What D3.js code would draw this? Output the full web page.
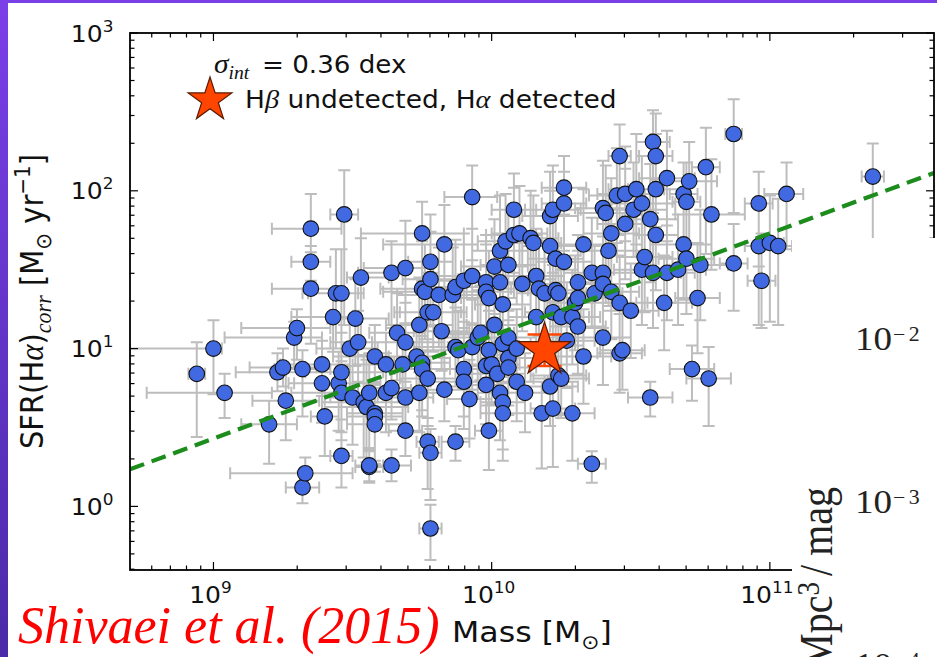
<!DOCTYPE html>
<html>
<head>
<meta charset="utf-8">
<script src="https://cdn.jsdelivr.net/npm/d3@7"></script>
<style>
  html, body { margin: 0; padding: 0; background: #fff; }
  svg { display: block; }
</style>
</head>
<body>
<svg id="chart" width="937" height="657"></svg>
<script>
// Each galaxy: [log10 M*, log10 SFR, mass err low, mass err high, SFR err low, SFR err high] (errors in dex)
const galaxies = [
  [8.94, 0.84, .03, .03, .40, .20], [9.00, 1.00, .30, .03, .29, .18], [9.04, 0.72, .28, .17, .16, .12],
  [9.20, 0.52, .10, .10, .25, .15], [9.23, 0.85, .15, .10, .12, .12], [9.25, 0.88, .12, .12, .12, .12],
  [9.26, 0.67, .12, .12, .25, .20], [9.29, 1.07, .25, .10, .20, .10], [9.30, 1.13, .20, .12, .20, .12],
  [9.32, 0.87, .10, .10, .30, .12], [9.32, 0.12, .06, .06, .10, .10], [9.33, 0.21, .27, .17, .10, .10],
  [9.35, 1.76, .14, .11, .15, .22], [9.35, 1.55, .07, .07, .12, .10], [9.35, 1.38, .14, .12, .35, .15],
  [9.39, 0.90, .15, .10, .20, .15], [9.39, 0.78, .10, .10, .25, .15], [9.40, 0.57, .05, .05, .25, .20],
  [9.43, 1.20, .15, .10, .22, .15], [9.44, 1.35, .12, .08, .35, .28], [9.46, 1.35, .12, .08, .35, .28],
  [9.45, 0.78, .18, .15, .30, .20], [9.46, 0.72, .18, .15, .30, .20], [9.46, 0.85, .20, .15, .30, .25],
  [9.46, 0.32, .04, .04, .20, .15], [9.47, 1.85, .05, .05, .70, .28], [9.49, 1.00, .12, .10, .25, .20],
  [9.50, 0.69, .08, .08, .30, .20], [9.51, 1.19, .10, .12, .30, .25], [9.52, 1.04, .10, .10, .25, .20],
  [9.53, 1.45, .05, .10, .40, .25], [9.54, 0.66, .15, .15, .35, .30], [9.55, 0.63, .15, .15, .35, .30],
  [9.56, 0.25, .05, .05, .10, .10], [9.56, 0.26, .05, .05, .10, .10], [9.56, 0.72, .10, .10, .35, .25],
  [9.58, 0.59, .10, .10, .30, .20], [9.58, 0.57, .10, .10, .30, .20], [9.58, 0.52, .10, .10, .30, .20],
  [9.58, 0.95, .15, .10, .20, .20], [9.62, 0.72, .10, .10, .25, .25], [9.62, 0.90, .12, .12, .20, .20],
  [9.64, 1.48, .12, .05, .35, .20], [9.64, 0.26, .07, .07, .10, .10], [9.64, 0.75, .10, .10, .20, .20],
  [9.66, 1.10, .10, .10, .30, .25], [9.69, 1.04, .12, .12, .25, .25], [9.68, 0.90, .10, .10, .20, .20],
  [9.69, 0.69, .10, .10, .20, .20], [9.69, 0.48, .06, .06, .16, .20], [9.69, 1.51, .15, .10, .35, .30],
  [9.73, 0.95, .10, .10, .20, .20], [9.74, 1.15, .12, .12, .30, .30], [9.74, 0.72, .10, .10, .25, .25],
  [9.75, 1.73, .22, .15, .30, .20], [9.75, 1.38, .15, .15, .30, .30], [9.76, 1.36, .15, .15, .30, .30],
  [9.75, 0.91, .10, .10, .30, .25], [9.75, 0.87, .10, .10, .30, .25], [9.77, 0.81, .10, .10, .30, .25],
  [9.77, 1.23, .12, .12, .25, .25], [9.79, 1.23, .12, .12, .25, .25], [9.78, 1.55, .08, .08, .40, .30],
  [9.78, 1.44, .10, .10, .30, .30], [9.77, 0.41, .04, .04, .30, .15], [9.78, 0.34, .04, .04, .30, .15],
  [9.78, -0.14, .04, .04, .20, .15], [9.81, 1.34, .15, .15, .30, .30], [9.82, 1.11, .10, .10, .25, .25],
  [9.83, 1.66, .22, .12, .30, .25], [9.83, 0.74, .12, .12, .20, .20], [9.86, 1.34, .10, .10, .30, .30],
  [9.87, 1.39, .10, .10, .30, .30], [9.87, 1.01, .15, .15, .25, .25], [9.88, 0.99, .15, .15, .25, .25],
  [9.87, 0.41, .05, .05, .12, .10], [9.90, 0.87, .12, .12, .30, .30], [9.90, 0.79, .12, .12, .30, .30],
  [9.90, 1.43, .12, .12, .30, .30], [9.92, 0.68, .08, .08, .25, .25], [9.93, 1.96, .10, .09, .40, .20],
  [9.93, 1.46, .15, .15, .30, .30], [9.93, 1.01, .10, .10, .30, .30], [9.95, 1.07, .12, .12, .30, .30],
  [9.96, 1.10, .12, .12, .30, .30], [9.98, 1.42, .10, .10, .30, .30], [9.98, 1.36, .10, .10, .30, .30],
  [9.99, 1.32, .10, .10, .30, .30], [9.98, 0.89, .10, .10, .25, .25], [9.99, 0.99, .10, .10, .25, .25],
  [9.98, 0.77, .06, .06, .25, .25], [9.99, 0.48, .05, .05, .25, .30], [10.00, 0.90, .10, .10, .25, .25],
  [10.01, 1.15, .10, .10, .30, .30], [10.01, 1.52, .12, .12, .30, .30], [10.02, 0.84, .10, .10, .20, .20],
  [10.03, 1.62, .10, .10, .35, .35], [10.03, 1.42, .10, .10, .30, .30], [10.03, 0.72, .08, .08, .30, .30],
  [10.04, 0.66, .08, .08, .30, .30], [10.04, 0.59, .08, .08, .30, .30], [10.04, 1.28, .10, .10, .30, .30],
  [10.04, 1.03, .10, .10, .25, .25], [10.05, 1.68, .10, .10, .30, .30], [10.08, 1.72, .10, .10, .30, .30],
  [10.10, 1.73, .10, .10, .30, .30], [10.06, 1.53, .10, .10, .35, .35], [10.06, 0.94, .10, .10, .30, .30],
  [10.06, 0.88, .10, .10, .30, .30], [10.06, 1.07, .10, .10, .25, .25], [10.08, 1.88, .08, .08, .40, .23],
  [10.09, 1.00, .10, .10, .25, .25], [10.09, 0.79, .10, .10, .25, .25], [10.12, 0.72, .10, .10, .25, .25],
  [10.14, 1.70, .10, .10, .30, .30], [10.15, 1.67, .10, .10, .30, .30], [10.11, 1.41, .12, .12, .30, .30],
  [10.16, 1.46, .10, .10, .30, .30], [10.16, 1.20, .10, .10, .30, .30], [10.17, 1.38, .10, .10, .30, .30],
  [10.19, 1.35, .10, .10, .30, .30], [10.18, 0.59, .06, .06, .35, .20], [10.21, 1.84, .10, .10, .40, .28],
  [10.22, 1.88, .10, .10, .40, .28], [10.21, 1.65, .10, .10, .35, .35], [10.21, 0.76, .10, .10, .25, .25],
  [10.22, 1.23, .10, .10, .30, .30], [10.22, 0.62, .08, .08, .37, .20], [10.23, 1.57, .10, .10, .30, .30],
  [10.26, 1.55, .10, .10, .30, .30], [10.23, 1.37, .10, .10, .30, .30], [10.24, 1.35, .10, .10, .30, .30],
  [10.24, 0.83, .10, .10, .25, .25], [10.25, 0.81, .10, .10, .25, .25], [10.25, 1.20, .10, .10, .30, .30],
  [10.26, 2.02, .08, .08, .40, .20], [10.26, 1.92, .08, .08, .40, .20], [10.27, 1.05, .10, .10, .30, .30],
  [10.29, 0.59, .08, .08, .30, .20], [10.29, 1.20, .10, .10, .30, .30], [10.30, 1.29, .10, .10, .30, .30],
  [10.31, 1.32, .10, .10, .30, .30], [10.31, 1.14, .10, .10, .30, .30], [10.31, 1.42, .10, .10, .30, .30],
  [10.33, 1.66, .12, .12, .35, .35], [10.33, 0.95, .10, .10, .30, .30], [10.36, 0.27, .05, .05, .12, .08],
  [10.36, 1.48, .10, .10, .35, .35], [10.40, 1.48, .10, .10, .35, .35], [10.37, 1.35, .10, .10, .30, .30],
  [10.40, 1.07, .10, .10, .30, .30], [10.40, 1.41, .10, .10, .30, .30], [10.40, 1.89, .10, .10, .40, .30],
  [10.41, 1.86, .10, .10, .40, .30], [10.42, 1.62, .10, .10, .35, .35], [10.43, 1.36, .10, .10, .30, .30],
  [10.43, 1.73, .10, .10, .35, .35], [10.45, 1.97, .10, .10, .30, .30], [10.46, 2.22, .04, .04, .50, .20],
  [10.46, 1.29, .10, .10, .30, .30], [10.46, 0.97, .08, .08, .25, .25], [10.47, 0.99, .08, .08, .25, .25],
  [10.48, 1.98, .10, .10, .30, .30], [10.48, 1.79, .10, .10, .35, .35], [10.50, 1.24, .10, .10, .30, .30],
  [10.51, 1.88, .12, .12, .30, .30], [10.54, 1.92, .12, .12, .30, .30], [10.52, 2.01, .10, .10, .35, .35],
  [10.54, 1.50, .10, .10, .35, .35], [10.55, 1.58, .10, .10, .35, .35], [10.57, 0.69, .08, .08, .12, .10],
  [10.57, 1.82, .10, .10, .40, .35], [10.58, 1.48, .10, .10, .35, .35], [10.58, 2.31, .06, .06, .45, .20],
  [10.59, 2.22, .06, .06, .45, .27], [10.59, 2.01, .10, .10, .35, .35], [10.59, 1.72, .08, .08, .35, .35],
  [10.62, 1.29, .10, .10, .30, .30], [10.63, 1.48, .10, .10, .30, .30], [10.63, 2.08, .10, .10, .40, .30],
  [10.67, 1.50, .10, .10, .35, .35], [10.69, 1.66, .10, .10, .35, .35], [10.69, 1.98, .05, .05, .40, .20],
  [10.70, 1.93, .05, .05, .40, .25], [10.70, 1.57, .10, .10, .35, .35], [10.71, 2.06, .10, .10, .40, .25],
  [10.72, 0.87, .08, .08, .20, .15], [10.74, 1.32, .08, .08, .35, .35], [10.75, 1.53, .10, .10, .35, .35],
  [10.77, 2.15, .05, .05, .55, .25], [10.78, 0.81, .08, .08, .30, .20], [10.79, 1.85, .13, .12, .35, .35],
  [10.87, 2.36, .03, .03, .50, .22], [10.87, 1.54, .05, .05, .30, .25], [10.96, 1.65, .05, .05, .50, .30],
  [11.00, 1.67, .05, .05, .50, .30], [11.03, 1.65, .05, .05, .50, .30], [10.96, 1.92, .05, .05, .40, .20],
  [10.97, 1.43, .05, .05, .30, .30], [11.06, 1.98, .08, .06, .35, .20], [11.37, 2.09, .04, .04, .50, .21]
];

// Galaxy with H-beta undetected but H-alpha detected: [log M*, log SFR, SFR err (dex)]
const hbUndetected = [10.19, 0.99, 0.10];

// Best-fit relation: log SFR = fitSlope * (log M* - 10) + fitIntercept
const fitSlope = 0.65;
const fitIntercept = 1.08;

const massMajorExps = [9, 10, 11];
const sfrMajorExps = [0, 1, 2, 3];
const massDomainExp = [8.70, 11.59];
const sfrDomainExp = [-0.403, 3.0];

const legendLines = { sigma: "= 0.36 dex", star: [" undetected, H", " detected"] };
const citation = "Shivaei et al. (2015)";
const sideTicks = [["10", "\u22122"], ["10", "\u22123"], ["10", "\u22124"]];

// ---------------------------------------------------------------------------
const W = 937, H = 657;
const P = { left: 130, right: 934, top: 33, bottom: 570 };
const SX = 1.09;              // horizontal stretch of the figure text
const SANS = "DejaVu Sans";
const MATH = "Liberation Serif";

const x = d3.scaleLog().domain(massDomainExp.map(e => 10 ** e)).range([P.left, P.right]);
const y = d3.scaleLog().domain(sfrDomainExp.map(e => 10 ** e)).range([P.bottom, P.top]);

const svg = d3.select("#chart");
const defs = svg.append("defs");

const grad = defs.append("linearGradient").attr("id", "edgeGrad")
  .attr("x1", 0).attr("y1", 0).attr("x2", 0).attr("y2", 1);
grad.append("stop").attr("offset", "0%").attr("stop-color", "#7b3fe8");
grad.append("stop").attr("offset", "100%").attr("stop-color", "#4a2aa8");

defs.append("clipPath").attr("id", "plotClip").append("rect")
  .attr("x", P.left).attr("y", P.top)
  .attr("width", P.right - P.left).attr("height", P.bottom - P.top);

// slide background
svg.append("rect").attr("width", W).attr("height", H).attr("fill", "#fff");
svg.append("rect").attr("x", 0).attr("y", 0).attr("width", 8).attr("height", H).attr("fill", "url(#edgeGrad)");
svg.append("rect").attr("x", 0).attr("y", 0).attr("width", W).attr("height", 3).attr("fill", "#7b3fe8");

const plot = svg.append("g").attr("clip-path", "url(#plotClip)");

// error bars
const CAP = 6;
const ebPath = d3.path();
galaxies.forEach(([lm, ls, mLo, mHi, sLo, sHi]) => {
  const cx = x(10 ** lm), cy = y(10 ** ls);
  const yA = y(10 ** (ls - sLo)), yB = y(10 ** (ls + sHi));
  const xA = x(10 ** (lm - mLo)), xB = x(10 ** (lm + mHi));
  ebPath.moveTo(cx, yA); ebPath.lineTo(cx, yB);
  ebPath.moveTo(cx - CAP, yA); ebPath.lineTo(cx + CAP, yA);
  ebPath.moveTo(cx - CAP, yB); ebPath.lineTo(cx + CAP, yB);
  ebPath.moveTo(xA, cy); ebPath.lineTo(xB, cy);
  ebPath.moveTo(xA, cy - CAP); ebPath.lineTo(xA, cy + CAP);
  ebPath.moveTo(xB, cy - CAP); ebPath.lineTo(xB, cy + CAP);
});
plot.append("path").attr("d", ebPath.toString())
  .attr("fill", "none").attr("stroke", "#bdbdbd").attr("stroke-width", 2);

// galaxies
plot.append("g").selectAll("circle").data(galaxies).join("circle")
  .attr("cx", d => x(10 ** d[0])).attr("cy", d => y(10 ** d[1])).attr("r", 7.8)
  .attr("fill", "#4169e1").attr("stroke", "#111").attr("stroke-width", 1.1);

// best-fit relation
const fitAt = m => 10 ** (fitSlope * (Math.log10(m) - 10) + fitIntercept);
const [m0, m1] = x.domain();
plot.append("line")
  .attr("x1", x(m0)).attr("y1", y(fitAt(m0)))
  .attr("x2", x(m1)).attr("y2", y(fitAt(m1)))
  .attr("stroke", "#1c8c1c").attr("stroke-width", 4.2).attr("stroke-dasharray", "15 8");

// H-beta undetected galaxy
const starX = x(10 ** hbUndetected[0]), starY = y(10 ** hbUndetected[1]);
const sy0 = y(10 ** (hbUndetected[1] - hbUndetected[2]));
const sy1 = y(10 ** (hbUndetected[1] + hbUndetected[2]));
const sp = d3.path();
sp.moveTo(starX, sy0); sp.lineTo(starX, sy1);
sp.moveTo(starX - 17, sy0); sp.lineTo(starX + 17, sy0);
sp.moveTo(starX - 17, sy1); sp.lineTo(starX + 17, sy1);
plot.append("path").attr("d", sp.toString()).attr("stroke", "#ff4500").attr("stroke-width", 2.5).attr("fill", "none");
const starSym = R => d3.symbol(d3.symbolStar, R * R / 0.8908130915292852)();
plot.append("path").attr("d", starSym(28))
  .attr("transform", `translate(${starX},${starY})`)
  .attr("fill", "#ff4500").attr("stroke", "#5a1a00").attr("stroke-width", 1.2);

// frame
svg.append("rect").attr("x", P.left).attr("y", P.top)
  .attr("width", P.right - P.left).attr("height", P.bottom - P.top)
  .attr("fill", "none").attr("stroke", "#000").attr("stroke-width", 1.8);

// ticks on all four sides, pointing inward
const isMajor = v => Math.abs(Math.log10(v) - Math.round(Math.log10(v))) < 1e-6;
const mTicks = x.ticks();
const sTicks = y.ticks();
const tickG = svg.append("g").attr("stroke", "#000").attr("stroke-width", 1.2);
mTicks.forEach(v => {
  const px = x(v), len = isMajor(v) ? 8 : 4.5;
  tickG.append("line").attr("x1", px).attr("x2", px).attr("y1", P.bottom).attr("y2", P.bottom - len);
  tickG.append("line").attr("x1", px).attr("x2", px).attr("y1", P.top).attr("y2", P.top + len);
});
sTicks.forEach(v => {
  const py = y(v), len = isMajor(v) ? 8 : 4.5;
  tickG.append("line").attr("y1", py).attr("y2", py).attr("x1", P.left).attr("x2", P.left + len);
  tickG.append("line").attr("y1", py).attr("y2", py).attr("x1", P.right).attr("x2", P.right - len);
});

// legend
const leg = svg.append("g");
leg.append("path").attr("d", starSym(23)).attr("transform", "translate(210,100)")
  .attr("fill", "#ff4500").attr("stroke", "#5a1a00").attr("stroke-width", 1.2);
const sig = leg.append("g").attr("transform", `translate(214,73) scale(${SX},1)`)
  .append("text").attr("font-family", SANS).attr("font-size", 24).attr("fill", "#111");
sig.append("tspan").attr("font-family", MATH).attr("font-style", "italic").attr("font-size", 27).text("\u03c3");
sig.append("tspan").attr("font-family", MATH).attr("font-style", "italic").attr("font-size", 18).attr("dy", 6).text("int");
sig.append("tspan").attr("x", (262 - 214) / SX).attr("dy", -6).text(legendLines.sigma);
const st = leg.append("g").attr("transform", `translate(245,108) scale(${SX},1)`)
  .append("text").attr("font-family", SANS).attr("font-size", 24.3).attr("fill", "#111");
st.append("tspan").text("H");
st.append("tspan").attr("font-family", MATH).attr("font-style", "italic").attr("font-size", 26).text("\u03b2");
st.append("tspan").text(legendLines.star[0]);
st.append("tspan").attr("font-family", MATH).attr("font-style", "italic").attr("font-size", 26).text("\u03b1");
st.append("tspan").text(legendLines.star[1]);

// panel of the neighbouring figure on the slide
svg.append("rect").attr("x", 792).attr("y", 238).attr("width", W - 792).attr("height", H - 238).attr("fill", "#fff");
sideTicks.forEach(([b, e], i) => {
  const t = svg.append("g").attr("transform", `translate(855,${350 + i * 163}) scale(${SX},1)`)
    .append("text").attr("font-family", MATH).attr("font-size", 34).attr("fill", "#222");
  t.append("tspan").text(b);
  t.append("tspan").attr("font-size", 20).attr("dy", -9).attr("dx", 1).attr("letter-spacing", 3).text(e);
});
const unit = svg.append("g").attr("transform", "translate(832,487) rotate(-90) scale(1,1.18)")
  .append("text").attr("text-anchor", "end").attr("font-family", MATH).attr("font-size", 40).attr("fill", "#222");
unit.append("tspan").text("Mpc");
unit.append("tspan").attr("font-size", 27).attr("dy", -11).text("3");
unit.append("tspan").attr("dy", 11).attr("dx", 6).text("/");
unit.append("tspan").attr("dx", 9).text("mag");

// tick labels
function powerLabel(px, py, exp, anchor) {
  const t = svg.append("g").attr("transform", `translate(${px},${py}) scale(${SX},1)`)
    .append("text").attr("text-anchor", anchor).attr("font-family", SANS)
    .attr("font-size", 23).attr("fill", "#111");
  t.append("tspan").text("10");
  t.append("tspan").attr("font-size", 15.5).attr("dy", -10).text(exp);
}
massMajorExps.forEach(e => powerLabel(x(10 ** e) - 3, 603, e, "middle"));
sfrMajorExps.forEach(e => powerLabel(113.5, y(10 ** e) + 8.5, e, "end"));

// axis titles
const xl = svg.append("g").attr("transform", `translate(${(P.left + P.right) / 2},642) scale(${SX},1)`)
  .append("text").attr("text-anchor", "middle").attr("font-family", SANS).attr("font-size", 29).attr("fill", "#111");
xl.append("tspan").text("Mass [M");
xl.append("tspan").attr("font-size", 20).attr("dy", 7).text("\u2299");
xl.append("tspan").attr("dy", -7).text("]");

const yl = svg.append("g").attr("transform", `translate(43,${(P.top + P.bottom) / 2}) rotate(-90) scale(1,${SX})`)
  .append("text").attr("text-anchor", "middle").attr("font-family", SANS).attr("font-size", 29).attr("fill", "#111");
yl.append("tspan").text("SFR(H");
yl.append("tspan").attr("font-family", MATH).attr("font-style", "italic").attr("font-size", 31).text("\u03b1");
yl.append("tspan").text(")");
yl.append("tspan").attr("font-family", MATH).attr("font-style", "italic").attr("font-size", 22).attr("dy", 7).text("corr");
yl.append("tspan").attr("dy", -7).text(" [M");
yl.append("tspan").attr("font-size", 20).attr("dy", 7).text("\u2299");
yl.append("tspan").attr("dy", -7).text(" yr");
yl.append("tspan").attr("font-size", 20).attr("dy", -12).text("\u22121");
yl.append("tspan").attr("dy", 12).text("]");

// citation on the slide
svg.append("text").attr("x", 18).attr("y", 643)
  .attr("font-family", "Liberation Serif").attr("font-style", "italic").attr("font-size", 52)
  .attr("fill", "#f00").text(citation);
</script>
</body>
</html>
